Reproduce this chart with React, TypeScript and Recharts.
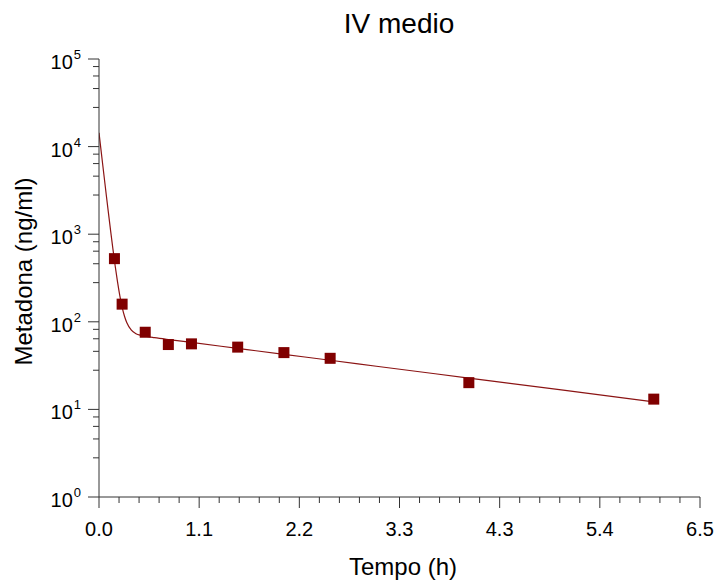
import React from 'react'
import { ComposedChart, Line, Scatter, XAxis, YAxis } from 'recharts'

// measured samples (h, ng/ml)
const sampleTime = [0.167, 0.25, 0.5, 0.75, 1.0, 1.5, 2.0, 2.5, 4.0, 6.0]
const sampleConc = [526, 159, 76, 55, 56, 51.4, 44.5, 38.3, 20.2, 13.1]

// fitted curve
const fitTime = [0, 0.02, 0.04, 0.06, 0.08, 0.1, 0.125, 0.15, 0.175, 0.2, 0.225, 0.25, 0.275, 0.3, 0.35, 0.4, 0.45, 0.5, 0.6, 0.8, 1.0, 1.5, 2.0, 2.5, 3.0, 4.0, 5.0, 6.0]
const fitConc = [14400, 9477, 6246, 4125, 2733, 1820, 1106, 684, 434, 287, 199, 147, 116.5, 98.1, 80.2, 73.2, 70.1, 68.4, 65.9, 61.9, 58.1, 49.7, 42.5, 36.4, 31.1, 22.8, 16.7, 12.2]

const xMajorTicks = [0, 1.0833, 2.1667, 3.25, 4.3333, 5.4167, 6.5]
const xTickLabels = ['0.0', '1.1', '2.2', '3.3', '4.3', '5.4', '6.5']
const xMinorTicks = [
  0.2167, 0.4333, 0.65, 0.8667,
  1.3, 1.5167, 1.7333, 1.95,
  2.3833, 2.6, 2.8167, 3.0333,
  3.4667, 3.6833, 3.9, 4.1167,
  4.55, 4.7667, 4.9833, 5.2,
  5.6333, 5.85, 6.0667, 6.2833,
]
const yMajorTicks = [1, 10, 100, 1000, 10000, 100000]
const yMinorTicks = [
  2.8, 4.6, 6.4, 8.2,
  28, 46, 64, 82,
  280, 460, 640, 820,
  2800, 4600, 6400, 8200,
  28000, 46000, 64000, 82000,
]

const samples = sampleTime.map((t, i) => ({ t, c: sampleConc[i] }))
const fit = fitTime.map((t, i) => ({ t, c: fitConc[i] }))
const xAllTicks = [...xMajorTicks, ...xMinorTicks].sort((a, b) => a - b)
const yAllTicks = [...yMajorTicks, ...yMinorTicks].sort((a, b) => a - b)

const FONT = '"Liberation Sans", Arial, sans-serif'
const AXIS = '#333'
const MAROON = '#800000'

const YTick = ({ x, y, payload }: any) => {
  const major = yMajorTicks.indexOf(payload.value)
  if (major < 0) {
    return <line x1={x} x2={x - 6} y1={y} y2={y} stroke={AXIS} />
  }
  return (
    <g>
      <line x1={x} x2={x - 11} y1={y} y2={y} stroke={AXIS} />
      <text x={x - 18} y={y + 10} textAnchor="end" fontFamily={FONT} fontSize={20} fill="#000">
        <tspan>10</tspan>
        <tspan dx={1} dy={-10} fontSize={13}>{major}</tspan>
      </text>
    </g>
  )
}

const XTick = ({ x, y, payload }: any) => {
  const major = xMajorTicks.indexOf(payload.value)
  if (major < 0) {
    return <line x1={x} x2={x} y1={y} y2={y + 6} stroke={AXIS} />
  }
  return (
    <g>
      <line x1={x} x2={x} y1={y} y2={y + 11} stroke={AXIS} />
      <text x={x} y={y + 39} textAnchor="middle" fontFamily={FONT} fontSize={20} fill="#000">
        {xTickLabels[major]}
      </text>
    </g>
  )
}

const Square = ({ cx, cy }: any) => (
  <rect x={cx - 5.5} y={cy - 5.5} width={11} height={11} fill={MAROON} />
)

export default function App() {
  return (
    <div style={{ position: 'absolute', left: 0, top: 0, width: 716, height: 584 }}>
      <ComposedChart width={716} height={584} margin={{ top: 59, right: 16, bottom: 0, left: 0 }}>
        <XAxis
          type="number"
          dataKey="t"
          domain={[0, 6.5]}
          allowDataOverflow
          ticks={xAllTicks}
          interval={0}
          height={87}
          tickSize={0}
          tickMargin={0}
          axisLine={{ stroke: AXIS }}
          tickLine={false}
          tick={<XTick />}
          label={{
            content: () => (
              <text x={403} y={575} textAnchor="middle" fontFamily={FONT} fontSize={24} fill="#000">
                Tempo (h)
              </text>
            ),
          }}
        />
        <YAxis
          dataKey="c"
          scale="log"
          domain={[1, 100000]}
          allowDataOverflow
          ticks={yAllTicks}
          interval={0}
          width={99}
          tickSize={0}
          tickMargin={0}
          axisLine={{ stroke: AXIS }}
          tickLine={false}
          tick={<YTick />}
          label={{
            content: () => (
              <text
                transform="translate(32,271.5) rotate(-90)"
                textAnchor="middle"
                fontFamily={FONT}
                fontSize={24}
                fill="#000"
              >
                Metadona (ng/ml)
              </text>
            ),
          }}
        />
        <Line
          data={fit}
          dataKey="c"
          type="monotone"
          stroke="#8b1414"
          strokeWidth={1.2}
          dot={false}
          activeDot={false}
          isAnimationActive={false}
        />
        <Scatter data={samples} dataKey="c" shape={<Square />} isAnimationActive={false} />
      </ComposedChart>
      <svg
        width={716}
        height={584}
        style={{ position: 'absolute', left: 0, top: 0, pointerEvents: 'none' }}
      >
        <text x={399} y={33} textAnchor="middle" fontFamily={FONT} fontSize={28} fill="#000">
          IV medio
        </text>
      </svg>
    </div>
  )
}
